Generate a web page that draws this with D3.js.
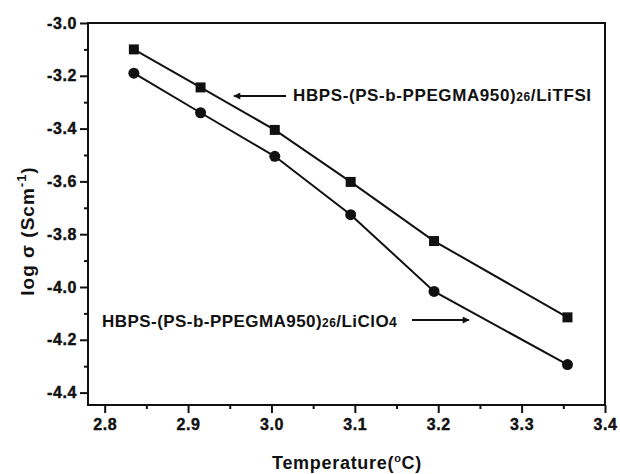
<!DOCTYPE html>
<html>
<head>
<meta charset="utf-8">
<script src="https://cdn.jsdelivr.net/npm/d3@7"></script>
<style>
  body { margin: 0; background: #fff; }
  svg { font-family: Arial, "Liberation Sans", sans-serif; font-weight: bold; }
  .tick text { font-weight: bold; }
</style>
</head>
<body>
<div id="chart"></div>
<script>
var width = 620, height = 474;

// data
var temp_x = [2.835, 2.915, 3.004, 3.095, 3.195, 3.355];
var litfsi = [-3.10, -3.244, -3.405, -3.602, -3.826, -4.115];
var liclo4 = [-3.19, -3.34, -3.505, -3.726, -4.017, -4.294];
var x_ticks = [2.8, 2.9, 3.0, 3.1, 3.2, 3.3, 3.4];
var y_ticks = [-3.0, -3.2, -3.4, -3.6, -3.8, -4.0, -4.2, -4.4];

var margin = {top: 23, right: 15, bottom: 69, left: 88};
var ink = "#111";
var font = "Arial, 'Liberation Sans', sans-serif";

var svg = d3.select("#chart").append("svg")
    .attr("width", width)
    .attr("height", height);

var xScale = d3.scaleLinear()
    .domain([2.78, 3.4])
    .range([margin.left, width - margin.right]);
var yScale = d3.scaleLinear()
    .domain([-4.447, -3.0])
    .range([height - margin.bottom, margin.top]);

// box
svg.append("rect")
    .attr("x", margin.left)
    .attr("y", margin.top)
    .attr("width", width - margin.left - margin.right)
    .attr("height", height - margin.top - margin.bottom)
    .attr("fill", "none")
    .attr("stroke", ink)
    .attr("stroke-width", 2);

// minor ticks
var xMinor = d3.axisBottom(xScale)
    .tickValues(d3.range(2.85, 3.4, 0.1))
    .tickSize(4).tickFormat("");
var yMinor = d3.axisLeft(yScale)
    .tickValues(d3.range(-3.1, -4.45, -0.2))
    .tickSize(4).tickFormat("");

svg.append("g")
    .attr("transform", "translate(0," + (height - margin.bottom) + ")")
    .call(xMinor)
    .call(function (g) { g.select(".domain").remove(); })
    .selectAll("line").attr("stroke", ink).attr("stroke-width", 2);
svg.append("g")
    .attr("transform", "translate(" + margin.left + ",0)")
    .call(yMinor)
    .call(function (g) { g.select(".domain").remove(); })
    .selectAll("line").attr("stroke", ink).attr("stroke-width", 2);

// major ticks
var fmt = function (d) { return d3.format(".1f")(d).replace("−", "-"); };
var xAxis = d3.axisBottom(xScale)
    .tickValues(x_ticks)
    .tickSize(8).tickPadding(6)
    .tickFormat(fmt);
var yAxis = d3.axisLeft(yScale)
    .tickValues(y_ticks)
    .tickSize(8).tickPadding(3)
    .tickFormat(fmt);

var gx = svg.append("g")
    .attr("transform", "translate(0," + (height - margin.bottom) + ")")
    .call(xAxis)
    .attr("font-family", font)
    .attr("font-weight", "bold")
    .attr("font-size", 16);
gx.select(".domain").remove();
gx.selectAll("line").attr("stroke", ink).attr("stroke-width", 2);
gx.selectAll("text").attr("fill", ink)
    .attr("stroke", ink).attr("stroke-width", 0.4)
    .style("letter-spacing", "0.6px");

var gy = svg.append("g")
    .attr("transform", "translate(" + margin.left + ",0)")
    .call(yAxis)
    .attr("font-family", font)
    .attr("font-weight", "bold")
    .attr("font-size", 16);
gy.select(".domain").remove();
gy.selectAll("line").attr("stroke", ink).attr("stroke-width", 2);
gy.selectAll("text").attr("fill", ink)
    .attr("stroke", ink).attr("stroke-width", 0.4)
    .style("letter-spacing", "0.6px");

// lines
var line = d3.line()
    .x(function (d, i) { return xScale(temp_x[i]); })
    .y(function (d) { return yScale(d); });

svg.append("path")
    .datum(litfsi)
    .attr("fill", "none")
    .attr("stroke", ink)
    .attr("stroke-width", 2)
    .attr("d", line);

svg.append("path")
    .datum(liclo4)
    .attr("fill", "none")
    .attr("stroke", ink)
    .attr("stroke-width", 2)
    .attr("d", line);

svg.selectAll(".sq")
    .data(litfsi)
    .enter().append("rect")
    .attr("x", function (d, i) { return xScale(temp_x[i]) - 5; })
    .attr("y", function (d) { return yScale(d) - 5; })
    .attr("width", 10)
    .attr("height", 10)
    .attr("fill", ink);

svg.selectAll(".ci")
    .data(liclo4)
    .enter().append("circle")
    .attr("cx", function (d, i) { return xScale(temp_x[i]); })
    .attr("cy", function (d) { return yScale(d); })
    .attr("r", 5.5)
    .attr("fill", ink);

// arrows
svg.append("defs").append("marker")
    .attr("id", "head")
    .attr("viewBox", "0 0 10 10")
    .attr("refX", 9).attr("refY", 5)
    .attr("markerWidth", 11).attr("markerHeight", 7)
    .attr("markerUnits", "userSpaceOnUse")
    .attr("orient", "auto")
    .append("path")
    .attr("d", "M0,0 L10,5 L0,10 Z")
    .attr("fill", ink);

svg.append("line")
    .attr("x1", 286).attr("y1", 96)
    .attr("x2", 234).attr("y2", 96)
    .attr("stroke", ink).attr("stroke-width", 2)
    .attr("marker-end", "url(#head)");

svg.append("line")
    .attr("x1", 412).attr("y1", 320)
    .attr("x2", 469).attr("y2", 320)
    .attr("stroke", ink).attr("stroke-width", 2)
    .attr("marker-end", "url(#head)");

// labels
var lab1 = svg.append("text")
    .attr("x", 293).attr("y", 101)
    .style("font-size", "17px")
    .style("letter-spacing", "0.6px")
    .attr("fill", ink);
lab1.append("tspan").text("HBPS-(PS-b-PPEGMA950)");
lab1.append("tspan").style("font-size", "12px").text("26");
lab1.append("tspan").text("/LiTFSI");

var lab2 = svg.append("text")
    .attr("x", 102).attr("y", 327)
    .style("font-size", "17px")
    .style("letter-spacing", "0.45px")
    .attr("fill", ink);
lab2.append("tspan").text("HBPS-(PS-b-PPEGMA950)");
lab2.append("tspan").style("font-size", "12px").text("26");
lab2.append("tspan").text("/LiClO");
lab2.append("tspan").style("font-size", "14px").text("4");

// axis titles
var xt = svg.append("text")
    .attr("x", 347).attr("y", 469)
    .attr("text-anchor", "middle")
    .style("font-size", "18px")
    .style("letter-spacing", "0.7px")
    .attr("fill", ink);
xt.append("tspan").text("Temperature(");
xt.append("tspan").attr("dy", -7).style("font-size", "11px").text("o");
xt.append("tspan").attr("dy", 7).text("C)");

var yt = svg.append("text")
    .attr("transform", "translate(34,231) rotate(-90)")
    .attr("text-anchor", "middle")
    .style("font-size", "19px")
    .style("letter-spacing", "1px")
    .attr("fill", ink);
yt.append("tspan").text("log σ (Scm");
yt.append("tspan").attr("dy", -8).style("font-size", "13px").text("-1");
yt.append("tspan").attr("dy", 8).text(")");
</script>
</body>
</html>
